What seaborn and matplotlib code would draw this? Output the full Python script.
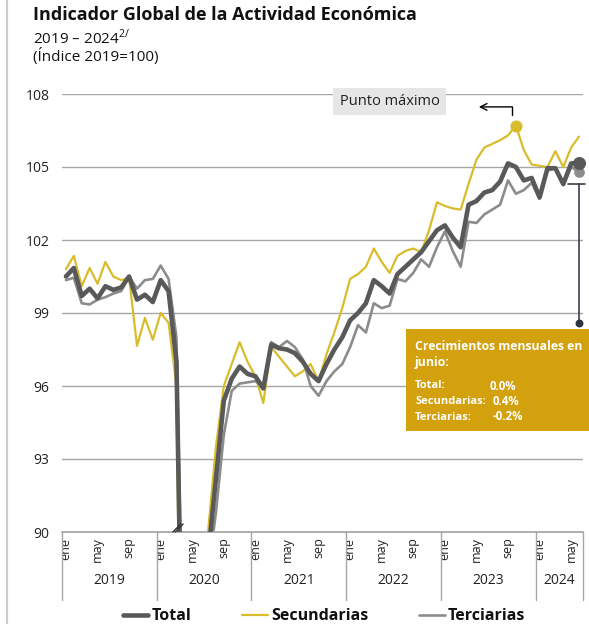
import numpy as np
import pandas as pd
import seaborn as sns
import matplotlib.pyplot as plt
from matplotlib.patches import Rectangle
from matplotlib.lines import Line2D

# Monthly index values, ene 2019 - jun 2024 (2019=100)
years = ['2019', '2020', '2021', '2022', '2023', '2024']
month_names = ['ene', 'may', 'sep']
series_names = ['Total', 'Secundarias', 'Terciarias']

total = [
    100.5, 100.85, 99.7, 100.0, 99.6, 100.1, 99.95, 100.05, 100.5, 99.55, 99.75, 99.45,
    100.35, 99.9, 97.0, 78.5, 80.5, 86.5, 89.0, 92.2, 95.4, 96.3, 96.8, 96.5,
    96.4, 95.9, 97.7, 97.55, 97.5, 97.35, 97.0, 96.5, 96.2, 96.9, 97.5, 98.0,
    98.7, 99.0, 99.4, 100.35, 100.1, 99.8, 100.6, 100.9, 101.2, 101.5, 101.95, 102.4,
    102.6, 102.1, 101.7, 103.45, 103.6, 103.95, 104.05, 104.4, 105.15, 105.0, 104.45, 104.55,
    103.75, 104.95, 104.95, 104.3, 105.15, 105.15]

secundarias = [
    100.8, 101.35, 100.1, 100.85, 100.2, 101.1, 100.5, 100.35, 100.45, 97.65, 98.8, 97.9,
    99.0, 98.6, 96.0, 70.0, 72.5, 84.0, 90.0, 93.5, 96.0, 96.9, 97.8, 97.0,
    96.4, 95.3, 97.6, 97.2, 96.8, 96.4, 96.6, 96.9, 96.2, 97.3, 98.2, 99.2,
    100.4, 100.6, 100.9, 101.65, 101.1, 100.65, 101.35, 101.55, 101.65, 101.5, 102.4, 103.55,
    103.4, 103.3, 103.25, 104.3, 105.3, 105.8, 105.95, 106.1, 106.3, 106.7, 105.7, 105.1,
    105.05, 105.0, 105.65, 105.0, 105.8, 106.25]

terciarias = [
    100.35, 100.45, 99.4, 99.35, 99.55, 99.65, 99.8, 99.9, 100.5, 100.0, 100.35, 100.4,
    100.95, 100.4, 98.0, 82.0, 83.5, 87.0, 88.3, 90.8, 94.0, 95.8, 96.1, 96.15,
    96.2, 95.95, 97.8, 97.6, 97.85, 97.6, 97.1, 96.0, 95.6, 96.2, 96.6, 96.9,
    97.6, 98.5, 98.2, 99.4, 99.2, 99.3, 100.4, 100.3, 100.65, 101.2, 100.9, 101.7,
    102.35, 101.55, 100.9, 102.75, 102.7, 103.05, 103.25, 103.45, 104.45, 103.9, 104.05, 104.35,
    103.7, 104.85, 104.95, 104.25, 105.0, 104.8]

growth_labels = ['Total:', 'Secundarias:', 'Terciarias:']
growth_values = ['0.0%', '0.4%', '-0.2%']

n = len(total)
df = pd.DataFrame({
    'mes': list(range(n)) * 3,
    'valor': total + secundarias + terciarias,
    'serie': ['Total'] * n + ['Secundarias'] * n + ['Terciarias'] * n,
})

colors = {'Total': '#595959', 'Secundarias': '#D9BC2C', 'Terciarias': '#8C8C8C'}
widths = {'Total': 3.3, 'Secundarias': 1.6, 'Terciarias': 1.9}

sns.set_theme(style='white')
plt.rcParams['font.family'] = ['Open Sans', 'DejaVu Sans']

fig = plt.figure(figsize=(5.89, 6.24), dpi=100)
ax = fig.add_axes([62 / 589, 1 - 532 / 624, 521 / 589, 438 / 624])

sns.lineplot(data=df, x='mes', y='valor', hue='serie', size='serie',
             hue_order=series_names, size_order=series_names,
             palette=colors, sizes=widths, ax=ax)
ax.lines[0].set_zorder(3)

ax.set_xlim(-0.5, n - 0.5)
ax.set_ylim(90, 108)
ax.set_yticks(np.arange(90, 109, 3))
ax.grid(axis='y', color='#a6a6a6', lw=1)
ax.set_axisbelow(True)
for s in ['top', 'right', 'left']:
    ax.spines[s].set_visible(False)
ax.spines['bottom'].set_color('#a6a6a6')
ax.set_xlabel('')
ax.set_ylabel('')

# month ticks (ene, may, sep) for every year
xt, xl = [], []
for k in range(len(years)):
    for j, m in enumerate(month_names):
        pos = k * 12 + j * 4
        if pos < n:
            xt.append(pos)
            xl.append(m)
ax.set_xticks(xt)
ax.set_xticklabels(xl, rotation=90, fontsize=9, color='#222222')
ax.tick_params(axis='x', length=0, pad=4)
ax.tick_params(axis='y', length=0, pad=9, labelsize=10, labelcolor='#222222')

# year groups
trans = ax.get_xaxis_transform()
bounds = [k * 12 - 0.5 for k in range(len(years))] + [n - 0.5]
for b in bounds:
    ax.plot([b, b], [0, -0.155], transform=trans, clip_on=False, color='#a6a6a6', lw=1)
for k, yr in enumerate(years):
    mid = (bounds[k] + bounds[k + 1]) / 2
    ax.text(mid, -0.11, yr, transform=trans, ha='center', va='center', fontsize=10, color='#222222')

# axis break mark
for dx in [0, 0.3]:
    ax.plot([13.55 + dx, 14.55 + dx], [90.0, 90.33], color='#333333', lw=1, clip_on=False, zorder=6)

# markers
peak = int(np.argmax(secundarias))
ax.scatter([peak], [secundarias[peak]], s=60, color=colors['Secundarias'], zorder=6, clip_on=False)
ax.scatter([n - 1], [terciarias[-1]], s=45, color=colors['Terciarias'], zorder=6, clip_on=False)
ax.scatter([n - 1], [total[-1]], s=70, color=colors['Total'], zorder=7, clip_on=False)

# "Punto máximo" label and arrow
ax.add_patch(Rectangle((33.8, 107.14), 14.3, 1.11, fc='#e6e6e6', ec='none', clip_on=False, zorder=5))
ax.text(41.0, 107.68, 'Punto máximo', ha='center', va='center', fontsize=10.5, color='#222222', zorder=6)
ax.plot([56.5, 56.5], [107.14, 107.47], color='black', lw=1, clip_on=False)
ax.annotate('', xy=(52.3, 107.47), xytext=(56.55, 107.47),
            arrowprops=dict(arrowstyle='->', color='black', lw=1, shrinkA=0, shrinkB=0),
            annotation_clip=False)

# range bracket to the box
ax.plot([63.6, 65.7], [104.3, 104.3], color='#3a3f4b', lw=1.2, clip_on=False)
ax.plot([65, 65], [104.3, 98.6], color='#3a3f4b', lw=1.2, clip_on=False)
ax.scatter([65], [98.6], s=22, color='#2e3340', zorder=6, clip_on=False)

# legend
sns.move_legend(ax, 'center', bbox_to_anchor=(0.503, -0.192), ncol=3, frameon=False,
                title=None, fontsize=11.5, handlelength=1.6, handletextpad=0.2, columnspacing=3.2)
for t in ax.get_legend().get_texts():
    t.set_fontweight('bold')
    t.set_color('#111111')

# gold box with monthly growth
fig.add_artist(Rectangle((406 / 589, 1 - 431 / 624), 183 / 589, 102 / 624,
                         transform=fig.transFigure, fc='#D4A10E', ec='none', zorder=2))
fig.text(415 / 589, 1 - 347 / 624, 'Crecimientos mensuales en', color='white',
         fontsize=8.8, weight='bold', va='center', zorder=3)
fig.text(415 / 589, 1 - 362 / 624, 'junio:', color='white',
         fontsize=8.8, weight='bold', va='center', zorder=3)
for k, (lab, val) in enumerate(zip(growth_labels, growth_values)):
    yy = 1 - (386 + k * 15.5) / 624
    fig.text(415 / 589, yy, lab, color='white', fontsize=8, weight='bold', va='center', zorder=3)
    fig.text((490 if k == 0 else 493) / 589, yy, val, color='white', fontsize=8.3,
             weight='bold', va='center', zorder=3)

# titles
fig.text(33 / 589, 1 - 15 / 624, 'Indicador Global de la Actividad Económica',
         fontsize=13, weight='bold', va='center', color='#111111')
fig.text(33 / 589, 1 - 38 / 624, r'2019 – 2024$^{\mathregular{2/}}$',
         fontsize=11, va='center', color='#111111')
fig.text(33 / 589, 1 - 57 / 624, '(Índice 2019=100)', fontsize=11, va='center', color='#111111')

# thin frame line on the left
fig.add_artist(Line2D([7 / 589, 7 / 589], [0, 1], transform=fig.transFigure, color='#cccccc', lw=1.5))

fig.savefig('out.png', dpi=100)
